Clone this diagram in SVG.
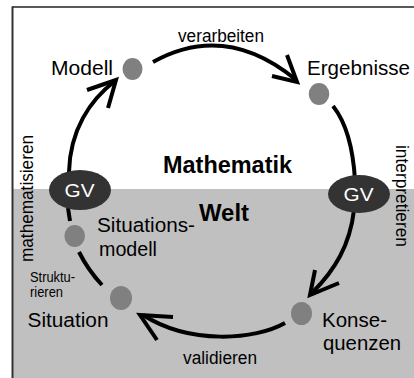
<svg xmlns="http://www.w3.org/2000/svg" width="414" height="378" viewBox="0 0 414 378">
<style>
text{font-family:"Liberation Sans",Arial,sans-serif;fill:#000}
.lbl{font-size:20.5px}
.arc{font-size:17.5px}
.big{font-size:23px;font-weight:bold}
.small{font-size:14.5px}
.gvt{font-size:19px;fill:#fff}
.dot{fill:#808080}
.gv{fill:#333}
.con{fill:none;stroke:#000;stroke-width:4}
.head{fill:none;stroke:#000;stroke-width:4;stroke-linejoin:miter}
</style>
<rect x="0" y="0" width="414" height="378" fill="#fff"/>
<rect x="13" y="189" width="401" height="189" fill="#c0c0c0"/>
<line x1="12" y1="7" x2="414" y2="7" stroke="#222" stroke-width="1.5"/>
<line x1="12.5" y1="6.5" x2="12.5" y2="378" stroke="#333" stroke-width="2"/>
<text class="big" x="163" y="173" textLength="129" lengthAdjust="spacingAndGlyphs">Mathematik</text>
<text class="big" x="199" y="221" textLength="50" lengthAdjust="spacingAndGlyphs">Welt</text>
<g id="connectors">
<path class="con" d="M69,172 C70,130 90,100 115,81"/>
<polyline class="head" points="87,90 116,80 108,108"/>
<path class="con" d="M153,62 Q225,22 295,79"/>
<polyline class="head" points="287,55 297,82 272,76"/>
<path class="con" d="M333,106 Q352,130 355,180"/>
<path class="con" d="M354,210 C350,245 335,270 312,293"/>
<polyline class="head" points="315,270 310,295 339,283"/>
<path class="con" d="M285,323 C255,340 190,345 143,315"/>
<polyline class="head" points="173,317 140,315 157,340"/>
<path class="con" d="M102,285 Q88,270 79,252"/>
<path class="con" d="M70,221 L68,208"/>
<text class="arc" x="178" y="41.5" textLength="86" lengthAdjust="spacingAndGlyphs">verarbeiten</text>
<text class="arc" x="183" y="364" textLength="74" lengthAdjust="spacingAndGlyphs">validieren</text>
<text class="arc" transform="translate(33,262) rotate(-90)" x="0" y="0" textLength="127" lengthAdjust="spacingAndGlyphs">mathematisieren</text>
<text class="arc" transform="translate(395.5,145) rotate(90)" x="0" y="0" textLength="102" lengthAdjust="spacingAndGlyphs">interpretieren</text>
</g>
<g id="gv-left">
<ellipse class="gv" cx="80" cy="190" rx="31" ry="20"/>
<text class="gvt" x="64.5" y="197" textLength="30" lengthAdjust="spacingAndGlyphs">GV</text>
</g>
<g id="gv-right">
<ellipse class="gv" cx="359" cy="194" rx="31" ry="19"/>
<text class="gvt" x="343.5" y="201" textLength="30" lengthAdjust="spacingAndGlyphs">GV</text>
</g>
<g id="modell">
<ellipse class="dot" cx="132.5" cy="69" rx="10" ry="11"/>
<text class="lbl" x="51" y="75" textLength="62" lengthAdjust="spacingAndGlyphs">Modell</text>
</g>
<g id="ergebnisse">
<ellipse class="dot" cx="319" cy="94" rx="10.3" ry="11"/>
<text class="lbl" x="307" y="75" textLength="103" lengthAdjust="spacingAndGlyphs">Ergebnisse</text>
</g>
<g id="situationsmodell">
<ellipse class="dot" cx="74.7" cy="236" rx="10.3" ry="11"/>
<text class="lbl" x="97" y="232" textLength="98" lengthAdjust="spacingAndGlyphs">Situations-</text>
<text class="lbl" x="99" y="256" textLength="58" lengthAdjust="spacingAndGlyphs">modell</text>
</g>
<g id="situation">
<ellipse class="dot" cx="121" cy="298" rx="11" ry="12"/>
<text class="lbl" x="27.5" y="327" textLength="81" lengthAdjust="spacingAndGlyphs">Situation</text>
<text class="small" x="30" y="282" textLength="45" lengthAdjust="spacingAndGlyphs">Struktu-</text>
<text class="small" x="30" y="297" textLength="33" lengthAdjust="spacingAndGlyphs">rieren</text>
</g>
<g id="konsequenzen">
<ellipse class="dot" cx="301.5" cy="313.5" rx="10.5" ry="11.5"/>
<text class="lbl" x="322" y="327" textLength="65" lengthAdjust="spacingAndGlyphs">Konse-</text>
<text class="lbl" x="323" y="350" textLength="78" lengthAdjust="spacingAndGlyphs">quenzen</text>
</g>
</svg>
